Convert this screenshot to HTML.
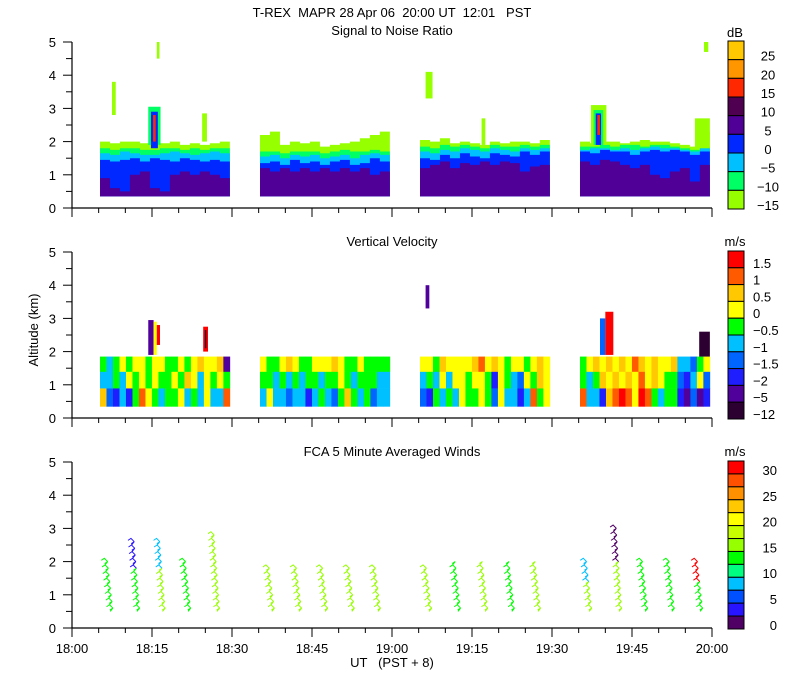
<!DOCTYPE html>
<html><head><meta charset="utf-8"><style>
body{margin:0;background:#fff}
svg{display:block;font-family:"Liberation Sans",sans-serif}
text{fill:#000;font-size:13px;white-space:pre}
</style></head><body>
<svg id="c" width="800" height="700" viewBox="0 0 800 700">
<text x="392" y="17" text-anchor="middle" font-size="14" xml:space="preserve">T-REX  MAPR 28 Apr 06  20:00 UT  12:01   PST</text>
<text x="392" y="35" text-anchor="middle">Signal to Noise Ratio</text>
<text x="392" y="246" text-anchor="middle">Vertical Velocity</text>
<text x="392" y="456" text-anchor="middle">FCA 5 Minute Averaged Winds</text>
<text x="0" y="0" transform="translate(38,330) rotate(-90)" text-anchor="middle" font-size="12">Altitude (km)</text>
<text x="392" y="667" text-anchor="middle" font-size="12" xml:space="preserve">UT   (PST + 8)</text>
<text x="735" y="37" text-anchor="middle">dB</text>
<text x="735" y="246" text-anchor="middle">m/s</text>
<text x="735" y="456" text-anchor="middle">m/s</text>
<g id="g"></g>
</svg>
<script>
// ---- data ----
const segStarts = [5.25, 35.25, 65.25, 95.25]; // minutes after 18:00
const segLen = 24.35;
const xTickLabels = ["18:00","18:15","18:30","18:45","19:00","19:15","19:30","19:45","20:00"];
const yTickLabels = ["0","1","2","3","4","5"];
// SNR layer tops (km), 13 samples per segment
const snrPurpleTop = [
 [0.9,0.6,0.5,1.0,1.1,0.6,0.5,1.0,1.1,1.0,1.1,1.0,0.9],
 [1.2,1.1,1.2,1.1,1.2,1.1,1.2,1.1,1.2,1.1,1.2,1.0,1.1],
 [1.2,1.3,1.4,1.2,1.35,1.3,1.4,1.3,1.4,1.35,1.1,1.25,1.3],
 [1.4,1.3,1.45,1.4,1.3,1.2,1.3,1.0,0.9,1.1,1.2,0.8,1.3]];
const snrBlueTop = [
 [1.45,1.4,1.45,1.5,1.4,1.5,1.45,1.4,1.5,1.45,1.4,1.45,1.4],
 [1.35,1.4,1.3,1.45,1.35,1.4,1.3,1.4,1.45,1.3,1.35,1.5,1.4],
 [1.5,1.45,1.6,1.5,1.65,1.55,1.5,1.65,1.6,1.55,1.7,1.6,1.7],
 [1.7,1.65,1.75,1.7,1.7,1.6,1.7,1.75,1.7,1.75,1.7,1.6,1.7]];
const snrCyanTop = [
 [1.65,1.6,1.7,1.65,1.6,1.6,1.65,1.7,1.65,1.6,1.65,1.7,1.65],
 [1.55,1.6,1.5,1.6,1.55,1.6,1.5,1.55,1.6,1.5,1.6,1.65,1.6],
 [1.7,1.65,1.75,1.7,1.8,1.75,1.7,1.8,1.75,1.7,1.8,1.75,1.8],
 [1.75,1.8,1.8,1.75,1.8,1.75,1.8,1.85,1.8,1.8,1.75,1.7,1.8]];
const snrGreenTop = [
 [1.8,1.75,1.8,1.8,1.75,1.75,1.8,1.8,1.75,1.8,1.75,1.8,1.8],
 [1.7,1.7,1.65,1.7,1.7,1.7,1.65,1.7,1.75,1.7,1.7,1.75,1.7],
 [1.85,1.8,1.9,1.85,1.9,1.85,1.8,1.9,1.85,1.85,1.9,1.85,1.9],
 [1.85,1.85,1.9,1.85,1.9,1.9,1.85,1.9,1.9,1.85,1.8,1.75,1.85]];
const snrLightTop = [
 [2.0,1.95,2.0,2.0,1.95,1.9,1.95,2.0,1.9,1.95,1.9,1.95,2.0],
 [2.2,2.3,1.9,2.0,1.95,2.0,1.85,1.9,1.95,2.0,2.1,2.2,2.3],
 [2.05,2.0,2.1,1.95,2.0,1.95,1.9,2.0,1.95,2.0,2.0,1.95,2.05],
 [2.0,1.95,2.0,2.0,1.95,2.0,2.05,2.0,2.0,1.95,1.9,1.85,2.3]];
// vertical velocity (m/s), 20 columns x 3 rows per segment (rows: low, mid, high)
const velLow = [
 [0.7,-1.2,-1.7,-0.7,-1.7,-0.3,1.2,0.3,-0.3,-0.7,-0.3,-0.3,0.3,-0.7,-0.3,-0.7,0.3,-0.7,-0.7,1.2],
 [-0.7,0.3,-0.7,-0.7,-1.2,-0.7,-0.7,-1.7,-0.7,-0.3,-0.7,-1.2,-0.3,0.7,-0.3,-0.7,-0.3,-1.2,-0.7,-0.7],
 [-1.2,-1.7,-0.3,-0.7,-0.3,-0.7,0.3,-0.3,-0.3,0.2,-0.3,-1.2,0.3,-0.7,-0.7,-1.7,-0.7,1.2,-0.3,0.2],
 [1.2,-0.7,-0.7,-1.7,0.7,1.2,1.7,1.2,0.3,1.7,1.2,-0.3,-0.7,-0.3,-0.3,-1.7,-2.5,-1.2,-2.2,-1.7]];
const velMid = [
 [-0.7,-0.7,-0.3,-0.7,0.3,-0.3,0.3,-0.3,0.2,-0.3,-0.3,0.3,-0.3,0.7,0.3,-0.7,0.2,-0.3,0.3,-0.3],
 [-0.3,-0.3,-0.7,-0.3,-0.7,-0.3,-0.7,-0.3,-0.3,-0.7,-0.3,-0.3,0.3,-0.3,-0.7,-0.3,-0.3,-0.3,-0.7,-0.7],
 [-0.7,-0.3,-0.7,0.2,-0.7,0.3,0.2,-0.3,0.3,0.3,-0.3,-1.7,0.3,-0.3,-0.7,-1.2,0.3,-0.3,0.7,0.3],
 [-0.3,-0.7,-0.3,0.7,0.3,0.7,0.3,0.7,0.3,1.2,0.3,0.7,0.3,-0.3,-0.3,-1.2,-1.7,-0.7,0.3,-1.2]];
const velHigh = [
 [-0.3,-0.7,-0.3,0.2,-0.3,0.3,0.2,-0.2,0.3,0.2,-0.3,-0.2,0.3,-0.3,0.2,0.7,0.3,0.2,0.7,-2.5],
 [0.2,-0.3,-0.3,0.3,0.7,0.3,-0.3,-0.3,0.3,0.3,0.3,0.7,0.2,-0.3,-0.3,0.3,-0.3,-0.3,-0.3,-0.3],
 [0.2,0.3,-0.3,0.7,0.3,0.2,0.3,0.2,0.7,1.2,0.3,0.7,0.3,-0.3,0.3,0.2,-0.3,0.3,0.7,0.2],
 [-0.3,0.3,0.7,0.3,0.7,0.3,0.7,0.3,1.2,0.7,0.3,0.7,0.3,0.3,0.7,-0.7,-0.7,-1.2,-0.3,0.3]];
// winds
const windTimes = [6.8,11.8,16.6,21.4,26.8,37.1,42.2,47.1,52.1,57,66.6,72,77.1,82.1,87,96.6,102.2,107.1,112.1,117.4];
const windTops  = [2.1,2.7,2.7,2.1,2.9,1.9,1.9,1.9,1.9,1.9,1.85,2.05,2.05,2.05,2.05,2.1,3.1,2.1,2.1,2.1];
const windSpdLow  = [13,13,16,13,15,16,16,15,16,15,16,13,15,13,15,15,16,13,13,13];
const windSpdHigh = [13,3,8,13,16,16,16,16,16,16,16,13,16,13,16,8,1,13,13,31];
// colorbars
const snrLabels = ["25","20","15","10","5","0","\u22125","\u221210","\u221215"];
const snrColors = ["#ffc800","#ff9600","#ff2800","#500050","#500096","#0028ff","#00c0ff","#00ff64","#96ff00"];
const velLabels = ["1.5","1","0.5","0","\u22120.5","\u22121","\u22121.5","\u22122","\u22125","\u221212"];
const velColors = ["#ff0000","#ff5a00","#ffc800","#ffff00","#00ff00","#00c0ff","#0064ff","#1e1eff","#50009b","#2d0032"];
const velBounds = [1.5,1,0.5,0,-0.5,-1,-1.5,-2,-5];
const windLabels = ["30","25","20","15","10","5","0"];
const windColors = ["#ff0000","#ff5000","#ff9000","#ffc800","#ffff00","#c8ff00","#96ff00","#00ff00","#00ff80","#00c0ff","#0050ff","#2814ff","#500064"];

// ---- scales ----
const NS="http://www.w3.org/2000/svg", G=document.getElementById('g');
const bases=[208,418,628];
const X=m=>72+m*640/120;
const Y=(p,km)=>bases[p]-km*33.2;
function mk(tag,attrs,parent){const e=document.createElementNS(NS,tag);for(const k in attrs)e.setAttribute(k,attrs[k]);(parent||G).appendChild(e);return e;}

// ---- SNR panel ----
const snrLayers=[[snrLightTop,snrColors[8]],[snrGreenTop,snrColors[7]],[snrCyanTop,snrColors[6]],[snrBlueTop,snrColors[5]],[snrPurpleTop,snrColors[4]]];
snrLayers.forEach(([arr,col],li)=>{
  arr.forEach((tops,s)=>{
    const n=tops.length, dx=segLen/n; let pts=[];
    tops.forEach((t,i)=>{const m0=segStarts[s]+i*dx;pts.push(X(m0)+','+Y(0,t),X(m0+dx)+','+Y(0,t));});
    pts.push(X(segStarts[s]+segLen)+','+Y(0,0.35),X(segStarts[s])+','+Y(0,0.35));
    const e=mk('polygon',{points:pts.join(' '),fill:col});
    
    
  });
});
function feat(p,m0,m1,k0,k1,col,name){const e=mk('rect',{x:X(m0),y:Y(p,k1),width:X(m1)-X(m0),height:Y(p,k0)-Y(p,k1),fill:col});
  
  }
feat(0,14.3,16.6,1.9,3.05,snrColors[7],'snr-plume');feat(0,14.8,16.1,1.8,2.9,snrColors[5],'snr-plume-core');feat(0,15.2,15.7,2.0,2.8,snrColors[2],'snr-plume-peak');
feat(0,7.5,8.2,2.8,3.8,snrColors[8],'snr-echo');feat(0,24.4,25.3,2.0,2.85,snrColors[8],'snr-echo');
feat(0,66.3,67.6,3.3,4.1,snrColors[8],'snr-echo');feat(0,76.8,77.5,1.9,2.7,snrColors[8],'snr-echo');
feat(0,97.3,100.2,1.9,3.1,snrColors[8],'snr-plume');feat(0,97.8,99.6,1.9,2.95,snrColors[7],'snr-plume');feat(0,98.2,99.2,1.9,2.85,snrColors[5],'snr-plume-core');feat(0,98.5,99.0,2.2,2.8,snrColors[2],'snr-plume-peak');
feat(0,116.8,119.6,1.8,2.7,snrColors[8],'snr-echo');feat(0,118.5,119.3,4.7,5.0,snrColors[8],'snr-echo');feat(0,15.9,16.4,4.5,5.0,snrColors[8],'snr-echo');

// ---- velocity panel ----
function velColor(v){for(let i=0;i<velBounds.length;i++)if(v>=velBounds[i])return velColors[i];return velColors[9];}
const rows=[[velLow,0.35,0.9],[velMid,0.9,1.4],[velHigh,1.4,1.85]];
rows.forEach(([arr,k0,k1],ri)=>{
  arr.forEach((vals,s)=>{const dx=segLen/vals.length;
    vals.forEach((v,i)=>{const m0=segStarts[s]+i*dx;
      const e=mk('rect',{x:X(m0),y:Y(1,k1),width:X(m0+dx)-X(m0)+0.3,height:Y(1,k0)-Y(1,k1)+0.3,fill:velColor(v)});
      
      });
  });
});
feat(1,14.3,15.3,1.9,2.95,velColors[8],'velocity-spike');feat(1,15.3,15.9,1.9,2.9,velColors[3],'velocity-spike');feat(1,15.9,16.5,2.2,2.8,velColors[0],'velocity-spike');
feat(1,24.6,25.5,2.0,2.75,velColors[0],'velocity-spike');feat(1,24.9,25.2,2.1,2.65,velColors[9],'velocity-spike');
feat(1,66.3,67.0,3.3,4.0,velColors[8],'velocity-spike');
feat(1,99.0,100.0,1.9,3.0,velColors[6],'velocity-spike');feat(1,100.0,101.5,1.9,3.2,velColors[0],'velocity-spike');
feat(1,117.6,119.6,1.85,2.6,velColors[9],'velocity-spike');

// ---- winds panel ----
function windColor(v){const i=Math.max(0,Math.min(12,Math.floor(v/2.5)));return windColors[12-i];}
windTimes.forEach((t,i)=>{
  const x=X(t), b=0.5, top=windTops[i], n=Math.round((top-b)/0.1);
  for(let k=0;k<n;k++){
    const h0=b+k*0.1,h1=h0+0.1, f=k/Math.max(1,n-1);
    const spd=f<0.6?windSpdLow[i]:windSpdHigh[i];
    const x0=x+3-6*(h0-b)/(top-b+0.01)+(k%2?2:-1), x1=x+3-6*(h1-b)/(top-b+0.01)+(k%2?-1:2);
    const e=mk('polyline',{points:`${x0},${Y(2,h0)} ${x1},${Y(2,h1)} ${x1-3},${Y(2,h1)+2}`,fill:'none',stroke:windColor(spd),'stroke-width':1});
    
    
  }
});

// ---- axes ----
[0,1,2].forEach(p=>{
  const b=bases[p];
  let e=mk('path',{d:`M72,${Y(p,5)}V${b}H712`,stroke:'#000',fill:'none','stroke-width':1.2});
  
  
  for(let k=0;k<=10;k++){const y=Y(p,k/2);
    const t=mk('line',{x1:k%2?66:63,x2:72,y1:y,y2:y,stroke:'#000'});
    
    }
  yTickLabels.forEach((lab,k)=>{const t=mk('text',{x:56,y:Y(p,k)+5,'text-anchor':'end'});t.textContent=lab;
    
    });
  for(let m=0;m<=120;m+=5){const x=X(m);
    const t=mk('line',{x1:x,x2:x,y1:b,y2:b+(m%15?5:9),stroke:'#000'});
    
    }
});
xTickLabels.forEach((lab,i)=>{const t=mk('text',{x:X(i*15),y:653,'text-anchor':'middle'});t.textContent=lab;
  
  });

// ---- colorbars ----
function bar(top,bot,cols,labs,lx,anchor,name,labOff){
  const h=(bot-top)/cols.length;
  cols.forEach((c,i)=>{const r=mk('rect',{x:728,y:top+i*h,width:16,height:h,fill:c,stroke:'#000','stroke-width':1});
    
    });
  labs.forEach((l,i)=>{const t=mk('text',{x:lx,y:labOff(i,h),'text-anchor':anchor});t.textContent=l;
    
    });
}
bar(41,209,snrColors,snrLabels,768,'middle','snr-colorbar',(i,h)=>41+(i+1)*h+1);
bar(251,419,velColors,velLabels,753,'start','velocity-colorbar',(i,h)=>251+(i+1)*h);
bar(461,629,windColors,windLabels,777,'end','winds-colorbar',(i)=>475+i*25.8);
</script>
</body></html>
